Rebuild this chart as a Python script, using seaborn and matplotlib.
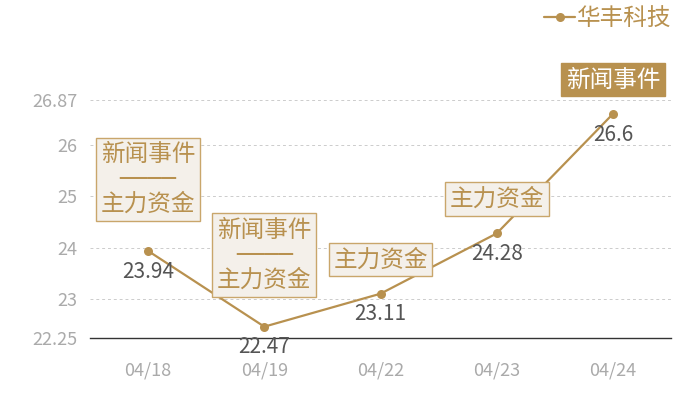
import matplotlib
matplotlib.use("Agg")
import numpy as np
import pandas as pd
import seaborn as sns
from matplotlib import pyplot as plt

# data
dates = ["04/18", "04/19", "04/22", "04/23", "04/24"]
prices = [23.94, 22.47, 23.11, 24.28, 26.6]
events = ["新闻事件\n────\n主力资金", "新闻事件\n────\n主力资金", "主力资金", "主力资金", "新闻事件"]
highlighted = [False, False, False, False, True]
y_ticks = [22.25, 23, 24, 25, 26, 26.87]
series_name = "华丰科技"

GOLD = "#b8914f"
BOX_EDGE = "#c9a66b"
BOX_FILL = "#f4f0ea"
VALUE_GRAY = "#555555"
TICK_GRAY = "#aaaaaa"


def main():
    sns.set_theme(style="white")
    plt.rcParams["font.family"] = ["Noto Sans CJK SC", "DejaVu Sans"]

    df = pd.DataFrame({"date": dates, "price": prices})

    fig = plt.figure(figsize=(7, 4), dpi=100)
    ax = fig.add_axes([0.1286, 0.155, 0.83, 0.595])

    sns.lineplot(data=df, x="date", y="price", ax=ax, color=GOLD, linewidth=1.6,
                 marker="o", markersize=6.5, markeredgewidth=0, label=series_name, sort=False)

    ax.set_xlim(-0.5, len(dates) - 0.5)
    ax.set_ylim(y_ticks[0], y_ticks[-1])
    ax.set_yticks(y_ticks)
    ax.set_yticklabels([f"{t:g}" for t in y_ticks])
    ax.set_xlabel("")
    ax.set_ylabel("")
    ax.tick_params(axis="both", length=0, labelsize=13, colors=TICK_GRAY)
    ax.tick_params(axis="x", pad=17)
    ax.tick_params(axis="y", pad=9)

    for s in ["top", "right", "left"]:
        ax.spines[s].set_visible(False)
    ax.spines["bottom"].set_color("#333333")
    ax.spines["bottom"].set_linewidth(1.0)

    for t in y_ticks[1:]:
        ax.axhline(t, color="#cccccc", linewidth=0.7, linestyle=(0, (3, 3)), zorder=0)

    for i, (p, ev, hl) in enumerate(zip(prices, events, highlighted)):
        ax.annotate(f"{p:g}", xy=(i, p), xytext=(0, -7), textcoords="offset points",
                    ha="center", va="top", fontsize=15, color=VALUE_GRAY)
        multi = "\n" in ev
        if hl:
            bbox = dict(boxstyle="square,pad=0.2", fc=GOLD, ec=GOLD, lw=1)
            tcol = "white"
        else:
            bbox = dict(boxstyle="square,pad=0.2", fc=BOX_FILL, ec=BOX_EDGE, lw=1)
            tcol = GOLD
        # DejaVu first for the box-drawing rule; CJK falls back to Noto
        ax.annotate(ev, xy=(i, p), xytext=(0, 25 if multi else 16), textcoords="offset points",
                    ha="center", va="bottom", fontsize=17, color=tcol, linespacing=1.05,
                    family=["DejaVu Sans", "Noto Sans CJK SC"],
                    bbox=bbox, annotation_clip=False)

    leg = ax.legend(loc="upper right", bbox_to_anchor=(0.99, 1.035), bbox_transform=fig.transFigure,
                    frameon=False, fontsize=17, handlelength=1.3, handletextpad=0.1)
    for txt in leg.get_texts():
        txt.set_color(GOLD)

    fig.savefig("out.png", dpi=100)
    plt.close(fig)


if __name__ == "__main__":
    main()
